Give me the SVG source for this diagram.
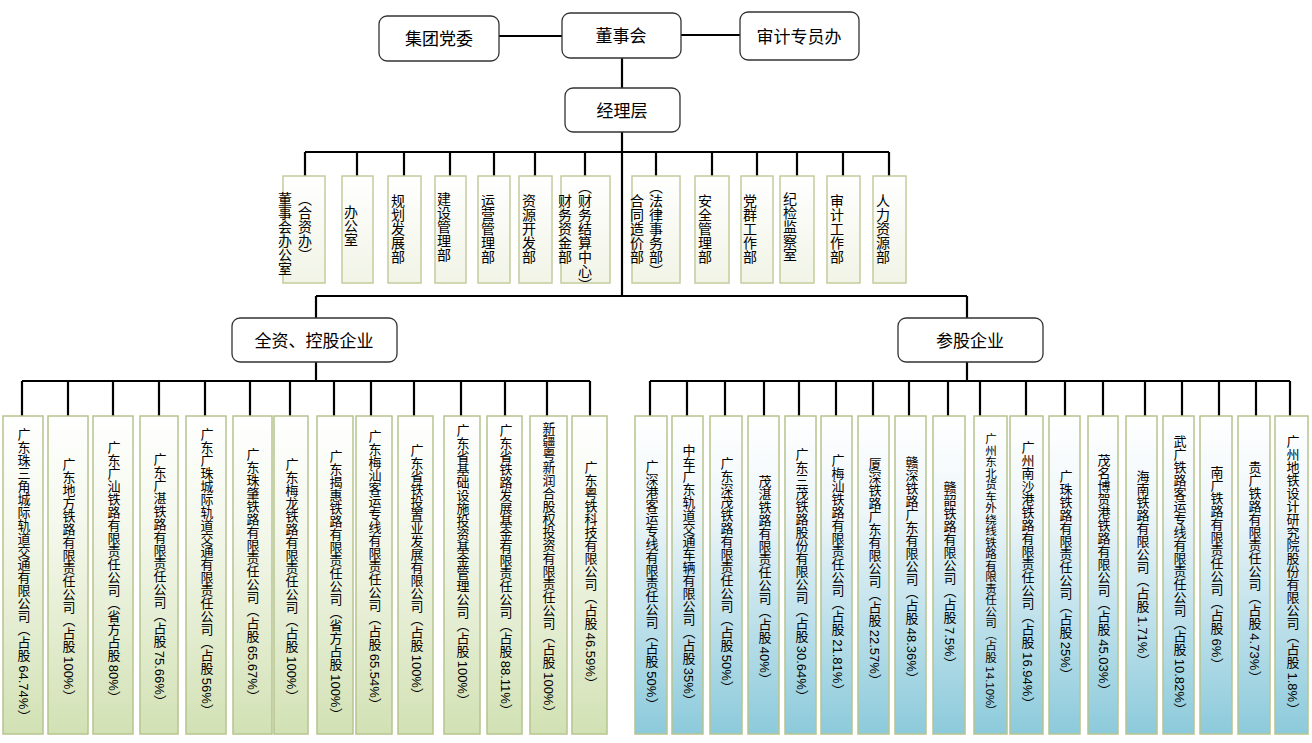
<svg xmlns="http://www.w3.org/2000/svg" width="1312" height="743" viewBox="0 0 1312 743">
<defs>
<linearGradient id="gg" x1="0" y1="0" x2="0" y2="1"><stop offset="0" stop-color="#ffffff"/><stop offset="0.35" stop-color="#f4f8ec"/><stop offset="1" stop-color="#d2e1b4"/></linearGradient>
<linearGradient id="gb" x1="0" y1="0" x2="0" y2="1"><stop offset="0" stop-color="#ffffff"/><stop offset="0.3" stop-color="#eef6f9"/><stop offset="1" stop-color="#8ccadb"/></linearGradient>
<linearGradient id="gd" x1="0" y1="0" x2="0" y2="1"><stop offset="0" stop-color="#ffffff"/><stop offset="1" stop-color="#f1f4e6"/></linearGradient>
</defs>
<style>
text{font-family:"Liberation Sans","Noto Sans CJK SC",sans-serif;fill:#000}
.big{font-size:17px;text-anchor:middle}
.v{writing-mode:vertical-lr;font-size:14px}
.vc{writing-mode:vertical-lr;font-size:13px;text-anchor:middle}
.sm{font-size:11.5px}
.top{fill:#fff;stroke:#333;stroke-width:1.3}
.d{fill:url(#gd);stroke:#c4cc9c;stroke-width:1.5}
.g{fill:url(#gg);stroke:#b7c48f;stroke-width:1.5}
.b{fill:url(#gb);stroke:#b7c48f;stroke-width:1.5}
.c{stroke:#000;stroke-width:2.2;fill:none}
</style>
<g id="connectors">
<path class="c" d="M499 36H562M681 35H740M622 58V88M622 132V296M305 152H889M305 152V176M357 152V176M404 152V176M450 152V176M494 152V176M535 152V176M585 152V176M656 152V176M712 152V176M757 152V176M797 152V176M843 152V176M889 152V176"/>
<path class="c" d="M316 296H967M316 296V318M967 296V318M316 362V381M967 362V381M22 381H590M22 381V416M68 381V416M113 381V416M159 381V416M205 381V416M250 381V416M290 381V416M334 381V416M371 381V416M414 381V416M461 381V416M505 381V416M547 381V416M590 381V416"/>
<path class="c" d="M650 381H1290M650 381V416M687 381V416M725 381V416M764 381V416M799 381V416M836 381V416M873 381V416M909 381V416M948 381V416M980 381V416M1026 381V416M1065 381V416M1103 381V416M1145 381V416M1182 381V416M1219 381V416M1256 381V416M1290 381V416"/>
</g>
<g id="n-dw"><rect class="top" x="379" y="16" width="120" height="45" rx="8"/><text class="big" x="439" y="45">集团党委</text></g>
<g id="n-dsh"><rect class="top" x="562" y="13" width="119" height="45" rx="8"/><text class="big" x="621" y="42">董事会</text></g>
<g id="n-sj"><rect class="top" x="740" y="12" width="119" height="48" rx="8"/><text class="big" x="799" y="43">审计专员办</text></g>
<g id="n-jl"><rect class="top" x="565" y="88" width="115" height="44" rx="8"/><text class="big" x="622" y="117">经理层</text></g>
<g id="n-qz"><rect class="top" x="232" y="318" width="165" height="44" rx="8"/><text class="big" x="314" y="347">全资、控股企业</text></g>
<g id="n-cg"><rect class="top" x="898" y="318" width="145" height="44" rx="8"/><text class="big" x="970" y="347">参股企业</text></g>
<g id="depts">
<g id="d1"><rect class="d" x="283" y="176" width="42" height="107"/><text class="v" x="284" y="192">董事会办公室</text><text class="v" x="304" y="192">（合资办）</text></g>
<g id="d2"><rect class="d" x="342" y="176" width="31" height="107"/><text class="v" x="350" y="205">办公室</text></g>
<g id="d3"><rect class="d" x="388" y="176" width="33" height="107"/><text class="v" x="397" y="194">规划发展部</text></g>
<g id="d4"><rect class="d" x="435" y="176" width="31" height="107"/><text class="v" x="443" y="192">建设管理部</text></g>
<g id="d5"><rect class="d" x="478" y="176" width="32" height="107"/><text class="v" x="487" y="194">运营管理部</text></g>
<g id="d6"><rect class="d" x="519" y="176" width="33" height="107"/><text class="v" x="528" y="194">资源开发部</text></g>
<g id="d7"><rect class="d" x="561" y="176" width="49" height="107"/><text class="v" x="564" y="194">财务资金部</text><text class="v" x="584" y="180">（财务结算中心）</text></g>
<g id="d8"><rect class="d" x="632" y="176" width="48" height="107"/><text class="v" x="636" y="194">合同造价部</text><text class="v" x="655" y="180">（法律事务部）</text></g>
<g id="d9"><rect class="d" x="695" y="176" width="34" height="107"/><text class="v" x="704" y="194">安全管理部</text></g>
<g id="d10"><rect class="d" x="741" y="176" width="32" height="107"/><text class="v" x="749" y="194">党群工作部</text></g>
<g id="d11"><rect class="d" x="780" y="176" width="34" height="107"/><text class="v" x="789" y="192">纪检监察室</text></g>
<g id="d12"><rect class="d" x="827" y="176" width="33" height="107"/><text class="v" x="836" y="194">审计工作部</text></g>
<g id="d13"><rect class="d" x="873" y="176" width="33" height="107"/><text class="v" x="882" y="194">人力资源部</text></g>
</g>
<g id="left">
<g><rect class="g" x="3" y="416" width="40" height="318"/><text class="vc" x="23" y="575">广东珠三角城际轨道交通有限公司（占股 64.74%）</text></g>
<g><rect class="g" x="48" y="416" width="40" height="318"/><text class="vc" x="68" y="580">广东地方铁路有限责任公司（占股 100%）</text></g>
<g><rect class="g" x="93" y="416" width="40" height="318"/><text class="vc" x="113" y="572">广东广汕铁路有限责任公司（省方占股 80%）</text></g>
<g><rect class="g" x="140" y="416" width="38" height="318"/><text class="vc" x="159" y="580">广东广湛铁路有限责任公司（占股 75.66%）</text></g>
<g><rect class="g" x="186" y="416" width="40" height="318"/><text class="vc" x="206" y="572">广东广珠城际轨道交通有限责任公司（占股 56%）</text></g>
<g><rect class="g" x="233" y="416" width="39" height="318"/><text class="vc" x="252" y="575">广东珠肇铁路有限责任公司（占股 65.67%）</text></g>
<g><rect class="g" x="274" y="416" width="34" height="318"/><text class="vc" x="291" y="580">广东梅龙铁路有限责任公司（占股 100%）</text></g>
<g><rect class="g" x="317" y="416" width="36" height="318"/><text class="vc" x="335" y="585">广东揭惠铁路有限责任公司（省方占股 100%）</text></g>
<g><rect class="g" x="356" y="416" width="36" height="318"/><text class="vc" x="374" y="570">广东梅汕客运专线有限责任公司（占股 65.54%）</text></g>
<g><rect class="g" x="398" y="416" width="35" height="318"/><text class="vc" x="416" y="572">广东省铁投置业发展有限公司（占股 100%）</text></g>
<g><rect class="g" x="444" y="416" width="36" height="318"/><text class="vc" x="462" y="565">广东省基础设施投资基金管理公司（占股 100%）</text></g>
<g><rect class="g" x="487" y="416" width="35" height="318"/><text class="vc" x="505" y="570">广东省铁路发展基金有限责任公司（占股 88.11%）</text></g>
<g><rect class="g" x="530" y="416" width="37" height="318"/><text class="vc" x="548" y="570">新疆粤新润合股权投资有限责任公司（占股 100%）</text></g>
<g><rect class="g" x="572" y="416" width="35" height="318"/><text class="vc" x="590" y="575">广东粤铁科技有限公司（占股 46.59%）</text></g>
</g>
<g id="right">
<g><rect class="b" x="635" y="416" width="32" height="318"/><text class="vc" x="651" y="585">广深港客运专线有限责任公司（占股 50%）</text></g>
<g><rect class="b" x="672" y="416" width="31" height="318"/><text class="vc" x="688" y="575">中车广东轨道交通车辆有限公司（占股 35%）</text></g>
<g><rect class="b" x="710" y="416" width="32" height="318"/><text class="vc" x="726" y="575">广东深茂铁路有限责任公司（占股 50%）</text></g>
<g><rect class="b" x="748" y="416" width="31" height="318"/><text class="vc" x="764" y="580">茂湛铁路有限责任公司（占股 40%）</text></g>
<g><rect class="b" x="785" y="416" width="31" height="318"/><text class="vc" x="801" y="575">广东三茂铁路股份有限公司（占股 30.64%）</text></g>
<g><rect class="b" x="821" y="416" width="31" height="318"/><text class="vc" x="837" y="575">广梅汕铁路有限责任公司（占股 21.81%）</text></g>
<g><rect class="b" x="858" y="416" width="31" height="318"/><text class="vc" x="874" y="572">厦深铁路广东有限公司（占股 22.57%）</text></g>
<g><rect class="b" x="895" y="416" width="31" height="318"/><text class="vc" x="911" y="570">赣深铁路广东有限公司（占股 48.36%）</text></g>
<g><rect class="b" x="933" y="416" width="32" height="318"/><text class="vc" x="949" y="575">赣韶铁路有限公司（占股 7.5%）</text></g>
<g><rect class="b" x="974" y="416" width="33" height="318"/><text class="vc sm" x="990" y="575">广州东北货车外绕线铁路有限责任公司（占股 14.10%）</text></g>
<g><rect class="b" x="1010" y="416" width="33" height="318"/><text class="vc" x="1027" y="575">广州南沙港铁路有限责任公司（占股 16.94%）</text></g>
<g><rect class="b" x="1049" y="416" width="31" height="318"/><text class="vc" x="1065" y="575">广珠铁路有限责任公司（占股 25%）</text></g>
<g><rect class="b" x="1088" y="416" width="30" height="318"/><text class="vc" x="1103" y="575">茂名博贺港铁路有限公司（占股 45.03%）</text></g>
<g><rect class="b" x="1126" y="416" width="31" height="318"/><text class="vc" x="1142" y="568">海南铁路有限公司（占股 1.71%）</text></g>
<g><rect class="b" x="1163" y="416" width="31" height="318"/><text class="vc" x="1179" y="575">武广铁路客运专线有限责任公司（占股 10.82%）</text></g>
<g><rect class="b" x="1200" y="416" width="32" height="318"/><text class="vc" x="1216" y="568">南广铁路有限责任公司（占股 6%）</text></g>
<g><rect class="b" x="1238" y="416" width="32" height="318"/><text class="vc" x="1254" y="572">贵广铁路有限责任公司（占股 4.73%）</text></g>
<g><rect class="b" x="1275" y="416" width="33" height="318"/><text class="vc" x="1292" y="575">广州地铁设计研究院股份有限公司（占股 1.8%）</text></g>
</g>
</svg>
